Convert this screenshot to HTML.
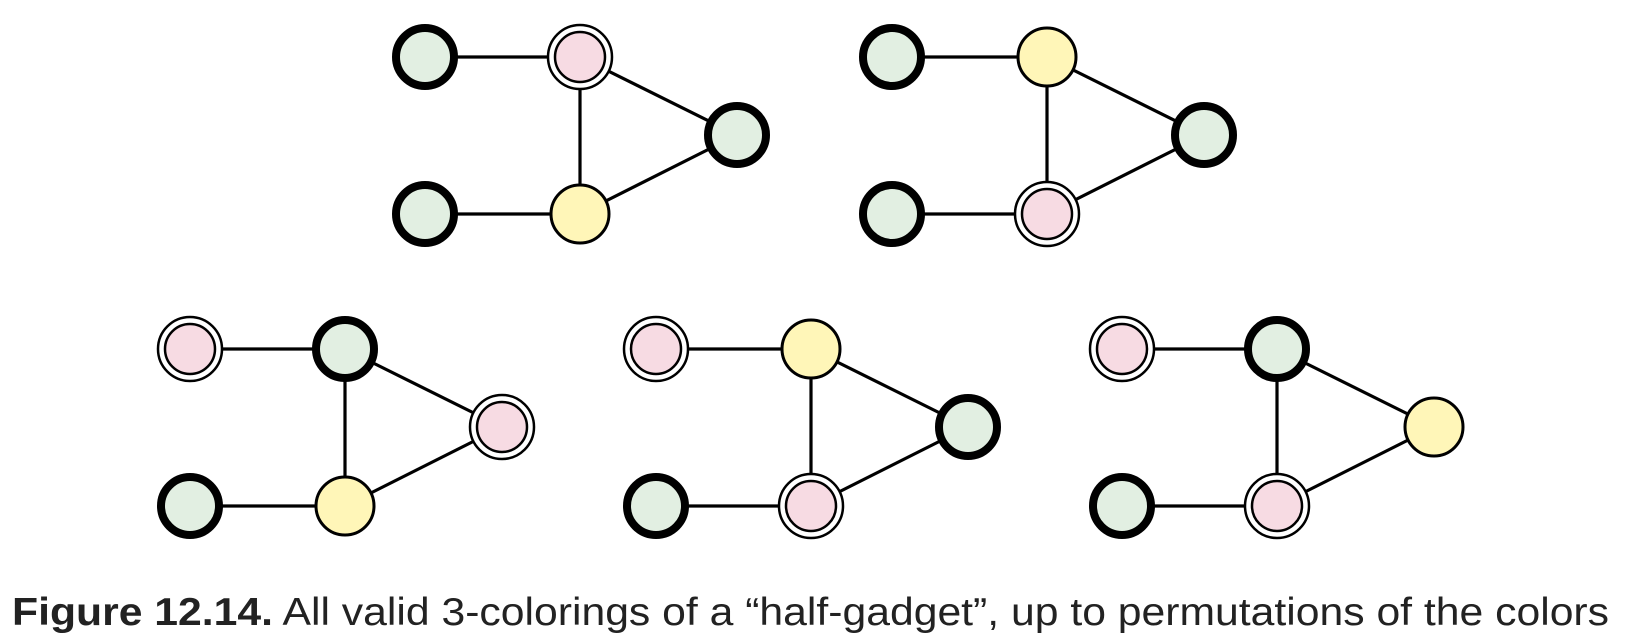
<!DOCTYPE html>
<html><head><meta charset="utf-8"><style>
html,body{margin:0;padding:0;background:#fff;}
svg{display:block;}
</style></head><body>
<svg width="1628" height="638" viewBox="0 0 1628 638" xmlns="http://www.w3.org/2000/svg">
<defs>
<g id="G"><circle r="29" fill="#e2efe2" stroke="#000" stroke-width="8"/></g>
<g id="P"><circle r="32" fill="#fff" stroke="#000" stroke-width="2.5"/><circle r="25" fill="#f7dbe3" stroke="#000" stroke-width="2.5"/></g>
<g id="Y"><circle r="29" fill="#fff6b8" stroke="#000" stroke-width="3"/></g>
<g id="E" stroke="#000" stroke-width="3.2">
<line x1="0" y1="0" x2="155" y2="0"/><line x1="0" y1="157" x2="155" y2="157"/>
<line x1="155" y1="0" x2="155" y2="157"/><line x1="155" y1="0" x2="312" y2="78"/><line x1="155" y1="157" x2="312" y2="78"/>
</g>
</defs>
<g transform="translate(425,57)"><use href="#E"/><use href="#G"/><use href="#G" y="157"/><use href="#P" x="155"/><use href="#Y" x="155" y="157"/><use href="#G" x="312" y="78"/></g>
<g transform="translate(892,57)"><use href="#E"/><use href="#G"/><use href="#G" y="157"/><use href="#Y" x="155"/><use href="#P" x="155" y="157"/><use href="#G" x="312" y="78"/></g>
<g transform="translate(190,349)"><use href="#E"/><use href="#P"/><use href="#G" y="157"/><use href="#G" x="155"/><use href="#Y" x="155" y="157"/><use href="#P" x="312" y="78"/></g>
<g transform="translate(656,349)"><use href="#E"/><use href="#P"/><use href="#G" y="157"/><use href="#Y" x="155"/><use href="#P" x="155" y="157"/><use href="#G" x="312" y="78"/></g>
<g transform="translate(1122,349)"><use href="#E"/><use href="#P"/><use href="#G" y="157"/><use href="#G" x="155"/><use href="#P" x="155" y="157"/><use href="#Y" x="312" y="78"/></g>
<text x="12" y="625" font-family="Liberation Sans, sans-serif" font-size="39" fill="#222" textLength="1597" lengthAdjust="spacingAndGlyphs"><tspan font-weight="bold">Figure 12.14.</tspan> All valid 3-colorings of a “half-gadget”, up to permutations of the colors</text>
</svg>
</body></html>
